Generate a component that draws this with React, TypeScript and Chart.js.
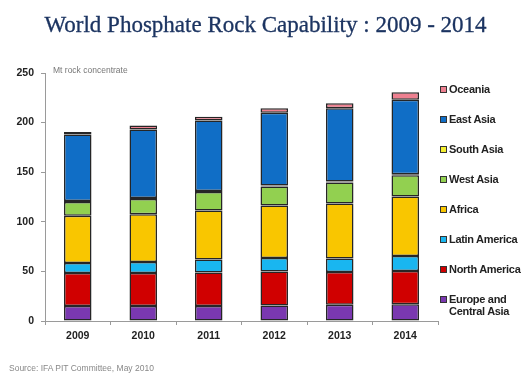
import React, { useEffect, useRef } from "react";
import { Chart, registerables } from "chart.js";

Chart.register(...registerables);

// Years on the category axis
const years = ["2009", "2010", "2011", "2012", "2013", "2014"];

// Capability by region, Mt rock concentrate (stacked bottom to top)
const europeCentralAsia = [15, 15, 15, 15.5, 16.5, 17];
const northAmerica = [33.5, 33.5, 34, 34.5, 33, 33.5];
const latinAmerica = [10, 11, 13, 13.5, 13.5, 15];
const africa = [47.5, 48, 49.5, 53, 55.5, 60];
const westAsia = [14, 15.5, 18.5, 19, 21, 21.5];
const southAsia = [1, 1, 1, 1, 1, 1];
const eastAsia = [67, 69, 71, 73.5, 74, 75];
const oceania = [2.5, 4, 4, 4.5, 5, 7.5];

// Y-axis tick values
const yTicks = [0, 50, 100, 150, 200, 250];

const series = [
  { label: "Europe and Central Asia", legend: ["Europe and", "Central Asia"], data: europeCentralAsia, color: "#7A38B0" },
  { label: "North America", legend: ["North America"], data: northAmerica, color: "#D00000" },
  { label: "Latin America", legend: ["Latin America"], data: latinAmerica, color: "#19B6F0" },
  { label: "Africa", legend: ["Africa"], data: africa, color: "#F9C600" },
  { label: "West Asia", legend: ["West Asia"], data: westAsia, color: "#92D050" },
  { label: "South Asia", legend: ["South Asia"], data: southAsia, color: "#F4EE30" },
  { label: "East Asia", legend: ["East Asia"], data: eastAsia, color: "#106EC6" },
  { label: "Oceania", legend: ["Oceania"], data: oceania, color: "#EE8090" },
];

const W = 525;
const H = 373;
const AXIS_LEFT = 45;
const AXIS_RIGHT = 438;
const AXIS_TOP = 73;
const AXIS_BOTTOM = 321;

export default function App() {
  const canvasRef = useRef<HTMLCanvasElement | null>(null);

  useEffect(() => {
    const canvas = canvasRef.current;
    if (!canvas) return;
    const chart = new Chart(canvas, {
      type: "bar",
      data: {
        labels: years,
        datasets: series.map((s) => ({
          label: s.label,
          data: s.data,
          backgroundColor: s.color,
          borderColor: "#262626",
          borderWidth: 1.5,
          borderSkipped: false,
          barPercentage: 0.42,
          categoryPercentage: 1,
        })),
      },
      options: {
        responsive: false,
        animation: false,
        maintainAspectRatio: false,
        layout: {
          padding: { left: 0, top: AXIS_TOP, right: W - AXIS_RIGHT, bottom: 0 },
        },
        plugins: {
          legend: { display: false },
          tooltip: { enabled: false },
          title: { display: false },
        },
        scales: {
          x: {
            stacked: true,
            afterFit: (s: any) => {
              s.height = H - AXIS_BOTTOM;
            },
            grid: {
              display: true,
              drawOnChartArea: false,
              drawTicks: true,
              tickLength: 4,
              color: "#9a9a9a",
              offset: true,
            },
            border: { display: true, color: "#9a9a9a", width: 1 },
            ticks: {
              padding: 5,
              color: "#222",
              font: { family: "Arial, 'Liberation Sans', sans-serif", size: 10.5, weight: "bold" },
            },
          },
          y: {
            stacked: true,
            min: 0,
            max: 250,
            afterFit: (s: any) => {
              s.width = AXIS_LEFT;
            },
            afterBuildTicks: (s: any) => {
              s.ticks = yTicks.map((v) => ({ value: v }));
            },
            grid: {
              display: true,
              drawOnChartArea: false,
              drawTicks: true,
              tickLength: 4,
              color: "#9a9a9a",
            },
            border: { display: true, color: "#9a9a9a", width: 1 },
            ticks: {
              padding: 7,
              color: "#222",
              font: { family: "Arial, 'Liberation Sans', sans-serif", size: 10.5, weight: "bold" },
            },
          },
        },
      },
    });
    return () => chart.destroy();
  }, []);

  const legendItems = [...series].reverse();

  return (
    <div
      style={{
        position: "fixed",
        left: 0,
        top: 0,
        width: W,
        height: H,
        background: "#fff",
        overflow: "hidden",
        fontFamily: "Arial, 'Liberation Sans', sans-serif",
      }}
    >
      <canvas ref={canvasRef} width={W} height={H} style={{ position: "absolute", left: 0, top: 0 }} />
      <div
        style={{
          position: "absolute",
          left: 0,
          width: W,
          top: 12,
          textAlign: "center",
          fontFamily: "'Liberation Serif', 'DejaVu Serif', serif",
          fontSize: 23,
          color: "#1C3461",
          whiteSpace: "nowrap",
          paddingLeft: 6,
          boxSizing: "border-box",
          WebkitTextStroke: "0.3px #1C3461",
        }}
      >
        World Phosphate Rock Capability : 2009 - 2014
      </div>
      <div
        style={{
          position: "absolute",
          left: 53,
          top: 65,
          fontSize: 8.5,
          color: "#777",
          whiteSpace: "nowrap",
        }}
      >
        Mt rock concentrate
      </div>
      {legendItems.map((s, i) => (
        <div
          key={s.label}
          style={{
            position: "absolute",
            left: 440,
            top: 83 + i * 30,
            display: "flex",
            alignItems: "flex-start",
            fontSize: 11,
            fontWeight: "bold",
            color: "#222",
            lineHeight: "12px",
            letterSpacing: -0.3,
            whiteSpace: "nowrap",
          }}
        >
          <span
            style={{
              display: "inline-block",
              width: 5,
              height: 5,
              marginTop: 3,
              marginRight: 2,
              background: s.color,
              border: "1px solid #333",
            }}
          />
          <span>
            {s.legend.map((line) => (
              <div key={line}>{line}</div>
            ))}
          </span>
        </div>
      ))}
      <div
        style={{
          position: "absolute",
          left: 9,
          top: 363,
          fontSize: 8.5,
          color: "#888",
          whiteSpace: "nowrap",
        }}
      >
        Source: IFA PIT Committee, May 2010
      </div>
    </div>
  );
}
